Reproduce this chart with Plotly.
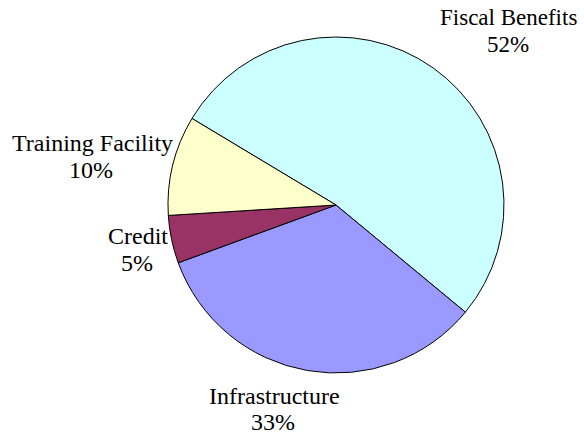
import plotly.graph_objects as go

categories = ["Fiscal Benefits", "Infrastructure", "Credit", "Training Facility"]
values = [52.4, 33.4, 4.6, 9.6]
pct_labels = ["52%", "33%", "5%", "10%"]
colors = ["#CCFFFF", "#9999FF", "#993366", "#FFFFCC"]

W, H = 584, 435


def px_x(x):
    return x / W


def px_y(y):
    return 1 - y / H


fig = go.Figure(go.Pie(
    labels=categories,
    values=values,
    sort=False,
    direction="clockwise",
    rotation=-59,
    marker=dict(colors=colors, line=dict(color="black", width=1)),
    textinfo="none",
    hoverinfo="label+percent",
    showlegend=False,
    domain=dict(x=[px_x(168), px_x(504)], y=[px_y(373), px_y(37)]),
))

# label positions (reference pixels): (line1 x, line1 y), (line2 x, line2 y), font size
label_pos = {
    "Fiscal Benefits": ((508, 18), (508, 45), 23),
    "Infrastructure": ((274, 396), (273, 422), 24),
    "Credit": ((138, 236), (137, 263), 24),
    "Training Facility": ((92, 143), (91, 170), 24),
}

for cat, pct in zip(categories, pct_labels):
    (x1, y1), (x2, y2), fs = label_pos[cat]
    font = dict(family="Liberation Serif, Times New Roman, serif", size=fs, color="black")
    for txt, xx, yy in ((cat, x1, y1), (pct, x2, y2)):
        fig.add_annotation(
            x=px_x(xx), y=px_y(yy), xref="paper", yref="paper",
            text=txt, showarrow=False,
            xanchor="center", yanchor="middle", align="center",
            font=font, borderpad=0,
        )

fig.update_layout(
    width=W, height=H,
    margin=dict(l=0, r=0, t=0, b=0),
    paper_bgcolor="white", plot_bgcolor="white",
)

fig.write_html(
    "out.html",
    config={"displayModeBar": False},
    post_script="document.body.style.margin='0';document.body.style.overflow='hidden';",
)
